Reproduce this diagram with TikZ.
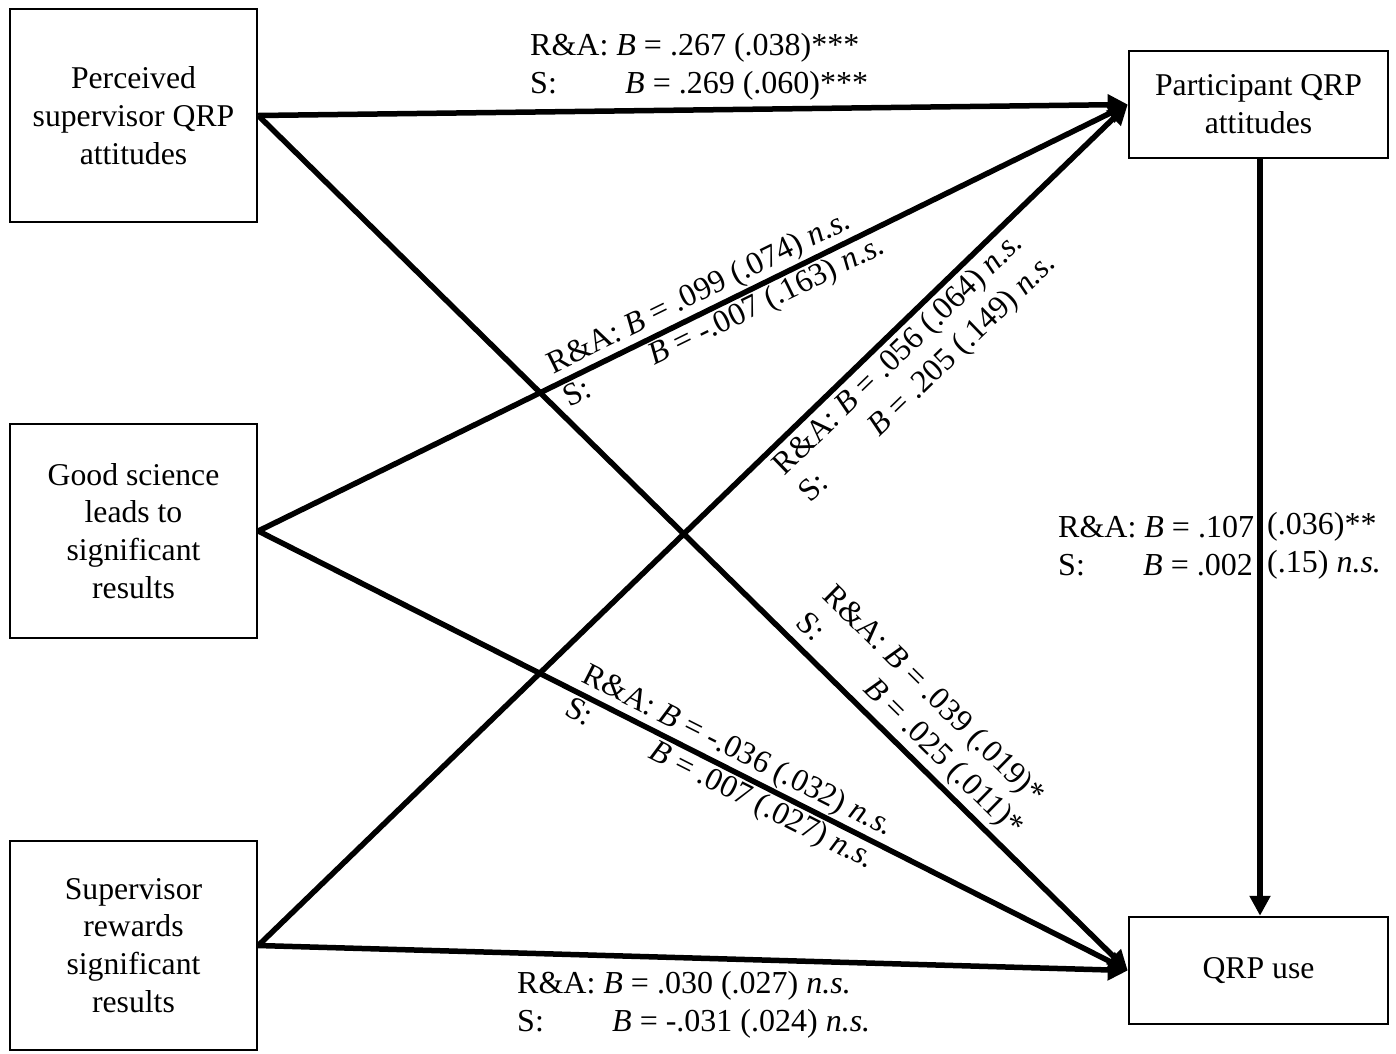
\documentclass[tikz,border=0pt]{standalone}
\usepackage{fontspec}
\setmainfont{Liberation Serif}
\usetikzlibrary{arrows.meta}
\newcommand{\fsz}{\fontsize{31.7}{37.8}\selectfont}
\newcommand{\lsz}{\fontsize{32}{37.5}\selectfont}
\newcommand{\rab}[2]{R\&A: \textit{B} = #1\\\makebox[95pt][l]{S:}\textit{B} = #2}
\newcommand{\nsig}{\textit{n.s.}}
\tikzset{
 box/.style={draw, line width=2.5pt, align=center, inner sep=0pt, font=\fsz},
 conn/.style={line width=5.5pt, -{Triangle[length=20pt,width=20pt]}},
 lab/.style={align=left, font=\lsz, inner sep=4pt},
}
\begin{document}
\begin{tikzpicture}[x=1pt,y=-1pt]
\path[use as bounding box, fill=white] (0,0) rectangle (1396,1053);
\node[box, minimum width=247pt, minimum height=213pt] (p) at (133.5,115.5) {Perceived\\supervisor QRP\\attitudes};
\node[box, minimum width=247pt, minimum height=214pt] (g) at (133.5,531) {Good science\\leads to\\significant\\results};
\node[box, minimum width=247pt, minimum height=209pt] (s) at (133.5,945.5) {Supervisor\\rewards\\significant\\results};
\node[box, minimum width=259pt, minimum height=107pt] (a) at (1258.5,104.5) {Participant QRP\\attitudes};
\node[box, minimum width=259pt, minimum height=107pt] (u) at (1258.5,970.5) {QRP use};
% labels not on diagonals
\node[lab, anchor=west] (l1) at (526,67) {\rab{.267 (.038)***}{.269 (.060)***}};
\node[lab, anchor=west] (l6) at (513,1005) {\rab{.030 (.027) \nsig}{-.031 (.024) \nsig}};
\node[lab, anchor=west] (l7a) at (1054,546) {R\&A: \textit{B} = .107\\\makebox[85pt][l]{S:}\textit{B} = .002};
\node[lab, anchor=west] (l7b) at (1263,546) {(.036)**\\(.15) \nsig};
% connectors
\draw[conn] (p.east) -- (a.west);
\draw[conn] (p.east) -- node[lab, sloped, anchor=south, pos=0.731] (l2) {\rab{.039 (.019)*}{.025 (.011)*}} (u.west);
\draw[conn] (g.east) -- node[lab, sloped, anchor=center, pos=0.527] (l3) {\rab{.099 (.074) \nsig}{-.007 (.163) \nsig}} (a.west);
\draw[conn] (g.east) -- node[lab, sloped, anchor=center, pos=0.541] (l4) {\rab{-.036 (.032) \nsig}{.007 (.027) \nsig}} (u.west);
\draw[conn] (s.east) -- node[lab, sloped, anchor=north, pos=0.724] (l5) {\rab{.056 (.064) \nsig}{.205 (.149) \nsig}} (a.west);
\draw[conn] (s.east) -- (u.west);
\draw[conn] ([xshift=1.5pt]a.south) -- ([xshift=1.5pt]u.north);
\end{tikzpicture}
\end{document}
